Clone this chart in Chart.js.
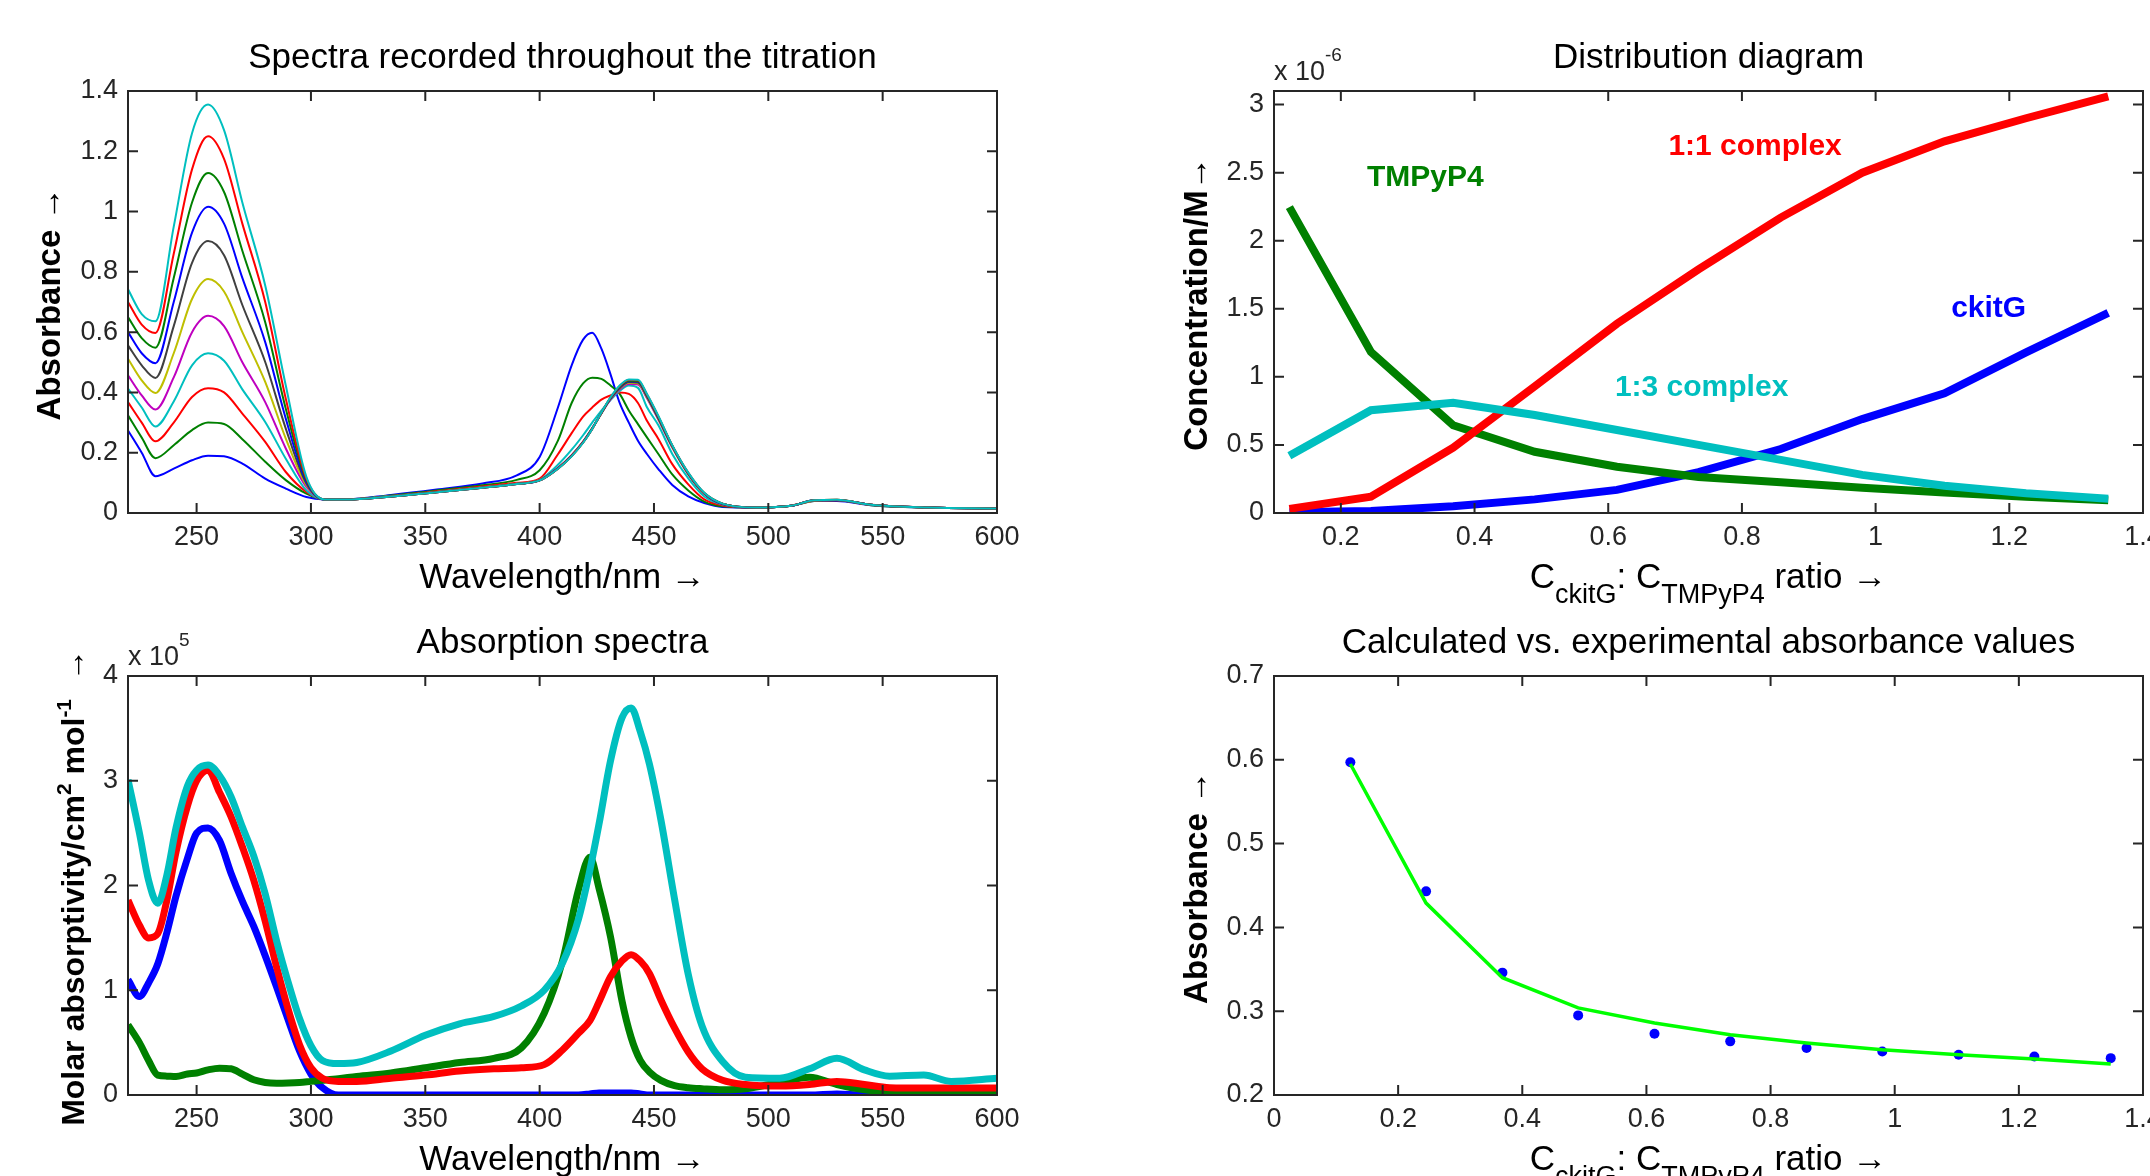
<!DOCTYPE html>
<html>
<head>
<meta charset="utf-8">
<title>TMPyP4 / ckitG titration</title>
<script src="https://cdn.jsdelivr.net/npm/chart.js@4.4.1/dist/chart.umd.min.js"></script>
<style>
  html, body { margin: 0; padding: 0; background: #fff; width: 2150px; height: 1176px; overflow: hidden; }
  canvas { position: absolute; }
</style>
</head>
<body>
<canvas id="titr" width="1075" height="640" style="left:0;top:0"></canvas>
<canvas id="dist" width="1075" height="640" style="left:1075px;top:0"></canvas>
<canvas id="eps" width="1075" height="592" style="left:0;top:584px"></canvas>
<canvas id="fit" width="1075" height="592" style="left:1075px;top:584px"></canvas>
<script>
const FONT = '"Liberation Sans", Arial, Helvetica, sans-serif';
const INK = '#262626';
const TICK_LEN = 10;

// --- spectra recorded during the titration (absorbance) ---
const WL_TITR = [220, 226, 232, 240, 248, 255, 262, 270, 280, 289, 298, 306,
  315, 335, 355, 375, 390, 400, 408, 414, 419, 423, 427, 431, 435, 439, 443, 447,
  452, 458, 465, 472, 480, 495, 510, 520, 530, 545, 570, 600];
const A_01 = [0.274, 0.20, 0.122, 0.147, 0.175, 0.190, 0.188, 0.164, 0.114, 0.081, 0.053, 0.045,
  0.045, 0.060, 0.078, 0.098, 0.125, 0.186, 0.35, 0.49, 0.575, 0.598, 0.545, 0.46, 0.365, 0.30, 0.24, 0.195,
  0.145, 0.093, 0.055, 0.033, 0.020, 0.018, 0.024, 0.040, 0.040, 0.026, 0.018, 0.015];
const A_02 = [0.324, 0.25, 0.182, 0.225, 0.275, 0.300, 0.295, 0.245, 0.170, 0.109, 0.064, 0.045,
  0.045, 0.058, 0.075, 0.092, 0.110, 0.142, 0.24, 0.365, 0.43, 0.449, 0.445, 0.423, 0.395, 0.34, 0.295, 0.25,
  0.195, 0.128, 0.075, 0.038, 0.022, 0.018, 0.024, 0.040, 0.042, 0.026, 0.018, 0.015];
const A_03 = [0.368, 0.30, 0.238, 0.30, 0.385, 0.414, 0.400, 0.33, 0.236, 0.136, 0.070, 0.045,
  0.045, 0.056, 0.072, 0.088, 0.100, 0.114, 0.195, 0.265, 0.32, 0.35, 0.376, 0.39, 0.400, 0.395, 0.365, 0.305,
  0.245, 0.162, 0.095, 0.045, 0.025, 0.018, 0.024, 0.041, 0.042, 0.027, 0.018, 0.015];
const A_04 = [0.413, 0.35, 0.287, 0.37, 0.49, 0.530, 0.505, 0.41, 0.302, 0.180, 0.075, 0.045,
  0.045, 0.056, 0.070, 0.085, 0.097, 0.110, 0.16, 0.21, 0.258, 0.30, 0.34, 0.375, 0.405, 0.423, 0.415, 0.35,
  0.29, 0.196, 0.115, 0.055, 0.028, 0.018, 0.024, 0.042, 0.043, 0.027, 0.018, 0.015];
const A_05 = [0.457, 0.39, 0.343, 0.45, 0.60, 0.654, 0.62, 0.50, 0.368, 0.214, 0.087, 0.045,
  0.045, 0.055, 0.070, 0.085, 0.097, 0.109, 0.150, 0.192, 0.237, 0.282, 0.330, 0.377, 0.410, 0.428, 0.426, 0.380,
  0.308, 0.217, 0.128, 0.064, 0.030, 0.018, 0.024, 0.041, 0.043, 0.027, 0.018, 0.015];
const A_06 = [0.512, 0.44, 0.398, 0.53, 0.71, 0.776, 0.735, 0.60, 0.435, 0.247, 0.092, 0.045,
  0.045, 0.055, 0.070, 0.085, 0.097, 0.109, 0.149, 0.191, 0.236, 0.281, 0.331, 0.379, 0.413, 0.432, 0.430, 0.383,
  0.311, 0.219, 0.129, 0.064, 0.030, 0.018, 0.024, 0.041, 0.043, 0.027, 0.018, 0.015];
const A_07 = [0.556, 0.49, 0.448, 0.62, 0.83, 0.902, 0.855, 0.69, 0.501, 0.280, 0.098, 0.045,
  0.045, 0.055, 0.069, 0.084, 0.096, 0.108, 0.148, 0.190, 0.235, 0.280, 0.331, 0.380, 0.415, 0.435, 0.433, 0.386,
  0.313, 0.221, 0.130, 0.065, 0.030, 0.018, 0.024, 0.042, 0.043, 0.027, 0.018, 0.015];
const A_08 = [0.600, 0.53, 0.497, 0.70, 0.93, 1.016, 0.96, 0.78, 0.567, 0.313, 0.103, 0.045,
  0.045, 0.055, 0.069, 0.084, 0.096, 0.108, 0.148, 0.190, 0.235, 0.280, 0.332, 0.381, 0.417, 0.437, 0.436, 0.388,
  0.315, 0.222, 0.131, 0.065, 0.030, 0.018, 0.024, 0.042, 0.043, 0.027, 0.018, 0.015];
const A_09 = [0.650, 0.58, 0.548, 0.78, 1.03, 1.128, 1.065, 0.87, 0.633, 0.346, 0.109, 0.045,
  0.045, 0.055, 0.069, 0.084, 0.096, 0.108, 0.147, 0.189, 0.234, 0.280, 0.332, 0.382, 0.419, 0.439, 0.438, 0.390,
  0.317, 0.223, 0.132, 0.066, 0.031, 0.018, 0.024, 0.042, 0.044, 0.027, 0.018, 0.015];
const A_10 = [0.700, 0.625, 0.597, 0.86, 1.14, 1.250, 1.175, 0.96, 0.700, 0.379, 0.114, 0.045,
  0.045, 0.055, 0.069, 0.084, 0.096, 0.108, 0.147, 0.189, 0.234, 0.279, 0.333, 0.383, 0.421, 0.441, 0.440, 0.392,
  0.319, 0.224, 0.133, 0.066, 0.031, 0.018, 0.024, 0.042, 0.044, 0.027, 0.018, 0.015];
const A_11 = [0.742, 0.66, 0.636, 0.95, 1.26, 1.355, 1.27, 1.03, 0.755, 0.423, 0.120, 0.045,
  0.045, 0.055, 0.069, 0.084, 0.096, 0.108, 0.147, 0.188, 0.233, 0.279, 0.333, 0.384, 0.423, 0.443, 0.442, 0.394,
  0.321, 0.225, 0.134, 0.067, 0.031, 0.018, 0.024, 0.042, 0.044, 0.027, 0.018, 0.015];
const TITR = [A_01, A_02, A_03, A_04, A_05, A_06, A_07, A_08, A_09, A_10, A_11];
const TITR_COLORS = ['#0000ff', '#008000', '#ff0000', '#00bfbf', '#bf00bf', '#bfbf00', '#404040',
  '#0000ff', '#008000', '#ff0000', '#00bfbf'];
const WL_TICKS = [250, 300, 350, 400, 450, 500, 550, 600];
const TITR_YTICKS = [0, 0.2, 0.4, 0.6, 0.8, 1, 1.2, 1.4];

// --- species distribution, concentrations in 1e-6 M ---
const RATIO = [0.123, 0.245, 0.368, 0.490, 0.613, 0.735, 0.858, 0.980, 1.103, 1.225, 1.348];
const C_CKITG = [0.005, 0.015, 0.05, 0.10, 0.17, 0.30, 0.47, 0.69, 0.88, 1.18, 1.47];
const C_TMPYP4 = [2.247, 1.183, 0.645, 0.45, 0.34, 0.265, 0.226, 0.186, 0.15, 0.12, 0.094];
const C_11 = [0.03, 0.12, 0.48, 0.93, 1.39, 1.79, 2.17, 2.50, 2.73, 2.90, 3.06];
const C_13 = [0.42, 0.755, 0.81, 0.72, 0.61, 0.50, 0.39, 0.28, 0.20, 0.145, 0.105];
const DIST_XTICKS = [0.2, 0.4, 0.6, 0.8, 1, 1.2, 1.4];
const DIST_YTICKS = [0, 0.5, 1, 1.5, 2, 2.5, 3];

// --- molar absorptivities of the species, in 1e5 cm2 mol-1 ---
const WL_EPS = [220, 225, 229, 233, 237, 241, 246, 250, 255, 260, 265, 270, 275, 280, 285, 290, 295, 300, 305, 312,
  320, 335, 350, 365, 380, 392, 402, 410, 417, 422, 426, 431, 436, 440, 444, 448, 453, 459, 465, 471,
  480, 490, 505, 518, 530, 542, 553, 568, 580, 600];
const E_CKITG = [1.10, 0.94, 1.07, 1.25, 1.55, 1.90, 2.26, 2.50, 2.55, 2.43, 2.12, 1.85, 1.61, 1.33, 1.03, 0.72, 0.42, 0.20, 0.07, 0.0,
  0, 0, 0, 0, 0, 0, 0, 0, 0, 0.01, 0.02, 0.02, 0.02, 0.02, 0.01, 0, 0, 0, 0, 0,
  0, 0, 0, 0, 0.01, 0, 0, 0, 0, 0];
const E_TMPYP4 = [0.67, 0.50, 0.33, 0.19, 0.18, 0.177, 0.20, 0.21, 0.24, 0.256, 0.25, 0.20, 0.145, 0.12, 0.113, 0.115, 0.12, 0.13, 0.14, 0.155,
  0.177, 0.21, 0.26, 0.31, 0.35, 0.45, 0.78, 1.28, 1.96, 2.27, 1.97, 1.51, 0.90, 0.55, 0.33, 0.22, 0.14, 0.09, 0.07, 0.06,
  0.05, 0.06, 0.12, 0.17, 0.10, 0.05, 0.03, 0.025, 0.025, 0.025];
const E_11 = [1.86, 1.62, 1.50, 1.54, 1.86, 2.32, 2.76, 3.00, 3.10, 2.89, 2.66, 2.37, 2.05, 1.66, 1.22, 0.82, 0.48, 0.26, 0.16, 0.13,
  0.13, 0.16, 0.19, 0.23, 0.25, 0.26, 0.29, 0.43, 0.59, 0.71, 0.89, 1.13, 1.28, 1.34, 1.28, 1.16, 0.91, 0.64, 0.41, 0.25,
  0.14, 0.10, 0.085, 0.10, 0.13, 0.10, 0.07, 0.066, 0.066, 0.066];
const E_13 = [3.01, 2.50, 2.05, 1.83, 2.10, 2.55, 2.95, 3.10, 3.15, 3.05, 2.85, 2.56, 2.28, 1.92, 1.47, 1.08, 0.73, 0.47, 0.33, 0.30,
  0.31, 0.42, 0.57, 0.68, 0.75, 0.85, 1.00, 1.26, 1.68, 2.15, 2.59, 3.19, 3.60, 3.695, 3.47, 3.16, 2.63, 1.87, 1.15, 0.66,
  0.32, 0.17, 0.16, 0.25, 0.35, 0.24, 0.18, 0.19, 0.13, 0.16];
const EPS_YTICKS = [0, 1, 2, 3, 4];

// --- fitted vs measured absorbance ---
const A_EXP = [0.597, 0.443, 0.346, 0.295, 0.273, 0.264, 0.256, 0.252, 0.248, 0.246, 0.244];
const A_CALC = [0.595, 0.429, 0.340, 0.304, 0.286, 0.272, 0.262, 0.254, 0.248, 0.243, 0.237];
const FIT_XTICKS = [0, 0.2, 0.4, 0.6, 0.8, 1, 1.2, 1.4];
const FIT_YTICKS = [0.2, 0.3, 0.4, 0.5, 0.6, 0.7];

const RATIO_LABEL = [['C', 35, 0], ['ckitG', 27, 15], [': C', 35, 0], ['TMPyP4', 27, 15], [' ratio \u2192', 35, 0]];
const WL_LABEL = [['Wavelength/nm \u2192', 35, 0]];

const DECOR = {
  titr: { title: 'Spectra recorded throughout the titration', xLabel: WL_LABEL,
    yLabel: [['Absorbance \u2192', 33, 0]], yLabelX: 60 },
  dist: { title: 'Distribution diagram', xLabel: RATIO_LABEL,
    yLabel: [['Concentration/M\u2192', 33, 0]], yLabelX: 132, exp: ['x 10', '-6'],
    notes: [
      { t: 'TMPyP4', x: 0.239, y: 2.40, c: '#008000' },
      { t: '1:1 complex', x: 0.690, y: 2.63, c: '#ff0000' },
      { t: 'ckitG', x: 1.113, y: 1.44, c: '#0000ff' },
      { t: '1:3 complex', x: 0.610, y: 0.857, c: '#00bfbf' }
    ] },
  eps: { title: 'Absorption spectra', xLabel: WL_LABEL,
    yLabel: [['Molar absorptivity/cm', 32, 0], ['2', 21, -13], [' mol', 32, 0], ['-1', 21, -13], ['  \u2192', 32, 0]],
    yLabelX: 84, exp: ['x 10', '5'] },
  fit: { title: 'Calculated vs. experimental absorbance values', xLabel: RATIO_LABEL,
    yLabel: [['Absorbance \u2192', 33, 0]], yLabelX: 132 }
};

const font = (size, bold) => (bold ? 'bold ' : '') + size + 'px ' + FONT;

function runsWidth(ctx, runs, bold) {
  return runs.reduce((w, [t, s]) => { ctx.font = font(s, bold); return w + ctx.measureText(t).width; }, 0);
}

function drawRuns(ctx, runs, x, y, bold, align) {
  let cx = align === 'center' ? x - runsWidth(ctx, runs, bold) / 2 : x;
  runs.forEach(([t, s, dy]) => {
    ctx.font = font(s, bold);
    ctx.fillText(t, cx, y + dy);
    cx += ctx.measureText(t).width;
  });
}

// boxed axes with inward ticks on all four sides, plus titles and labels
const frame = {
  id: 'frame',
  afterDatasetsDraw(chart) {
    const { ctx, chartArea: a, scales: { x, y } } = chart;
    const d = DECOR[chart.canvas.id];
    ctx.save();
    ctx.strokeStyle = INK;
    ctx.lineWidth = 2;
    ctx.strokeRect(a.left, a.top, a.right - a.left, a.bottom - a.top);
    ctx.beginPath();
    x.ticks.forEach(t => {
      const px = x.getPixelForValue(t.value);
      ctx.moveTo(px, a.bottom); ctx.lineTo(px, a.bottom - TICK_LEN);
      ctx.moveTo(px, a.top); ctx.lineTo(px, a.top + TICK_LEN);
    });
    y.ticks.forEach(t => {
      const py = y.getPixelForValue(t.value);
      ctx.moveTo(a.left, py); ctx.lineTo(a.left + TICK_LEN, py);
      ctx.moveTo(a.right, py); ctx.lineTo(a.right - TICK_LEN, py);
    });
    ctx.stroke();

    ctx.fillStyle = '#000';
    ctx.textAlign = 'left';
    ctx.textBaseline = 'alphabetic';
    const cx = (a.left + a.right) / 2;
    const cy = (a.top + a.bottom) / 2;
    drawRuns(ctx, [[d.title, 35, 0]], cx, a.top - 23, false, 'center');
    drawRuns(ctx, d.xLabel, cx, a.bottom + 75, false, 'center');

    ctx.save();
    ctx.translate(d.yLabelX, cy + 2);
    ctx.rotate(-Math.PI / 2);
    drawRuns(ctx, d.yLabel, 0, 0, true, 'center');
    ctx.restore();

    if (d.exp) {
      ctx.fillStyle = INK;
      drawRuns(ctx, [[d.exp[0], 27, 0], [d.exp[1], 19, -19]], a.left, a.top - 11, false, 'left');
    }
    (d.notes || []).forEach(n => {
      ctx.fillStyle = n.c;
      ctx.font = font(30, true);
      ctx.fillText(n.t, x.getPixelForValue(n.x), y.getPixelForValue(n.y));
    });
    ctx.restore();
  }
};

const fmt = v => String(+Number(v).toFixed(2));

function axis(min, max, ticks, horizontal, size, pad) {
  return {
    type: 'linear', min, max,
    grid: { display: false, drawTicks: false },
    border: { display: false },
    ticks: {
      autoSkip: false, maxRotation: 0, minRotation: 0, padding: pad, color: INK,
      font: { family: FONT, size: 27 }, callback: fmt
    },
    afterBuildTicks: s => { s.ticks = ticks.map(v => ({ value: v })); },
    afterFit: s => {
      if (horizontal) s.height = size; else s.width = size;
      s.paddingLeft = 0; s.paddingRight = 0; s.paddingTop = 0; s.paddingBottom = 0;
    }
  };
}

function makeChart(id, datasets, o) {
  return new Chart(document.getElementById(id), {
    type: 'scatter',
    data: { datasets },
    plugins: [frame],
    options: {
      responsive: false,
      animation: false,
      events: [],
      devicePixelRatio: 1,
      layout: { padding: { left: 0, top: o.top, right: o.right, bottom: 0 } },
      plugins: { legend: { display: false }, tooltip: { enabled: false } },
      scales: {
        x: axis(o.x[0], o.x[1], o.xTicks, true, o.xH, 8),
        y: axis(o.y[0], o.y[1], o.yTicks, false, o.yW, 10)
      }
    }
  });
}

const line = (xs, ys, color, width, i, smooth) => ({
  data: xs.map((v, k) => ({ x: v, y: ys[k] })),
  showLine: true, borderColor: color, borderWidth: width, pointRadius: 0,
  cubicInterpolationMode: smooth ? 'monotone' : 'default', tension: 0, order: -i
});

makeChart('titr',
  TITR.map((vals, i) => line(WL_TITR, vals, TITR_COLORS[i], 2, i, true)),
  { x: [220, 600], y: [0, 1.4], xTicks: WL_TICKS, yTicks: TITR_YTICKS, top: 91, right: 78, yW: 128, xH: 127 });

makeChart('dist', [
  line(RATIO, C_CKITG, '#0000ff', 8, 0, false),
  line(RATIO, C_TMPYP4, '#008000', 8, 1, false),
  line(RATIO, C_11, '#ff0000', 8, 2, false),
  line(RATIO, C_13, '#00bfbf', 8, 3, false)
], { x: [0.1, 1.4], y: [0, 3.1], xTicks: DIST_XTICKS, yTicks: DIST_YTICKS, top: 91, right: 7, yW: 199, xH: 127 });

makeChart('eps', [
  line(WL_EPS, E_CKITG, '#0000ff', 7, 0, true),
  line(WL_EPS, E_TMPYP4, '#008000', 7, 1, true),
  line(WL_EPS, E_11, '#ff0000', 7, 2, true),
  line(WL_EPS, E_13, '#00bfbf', 7, 3, true)
], { x: [220, 600], y: [0, 4], xTicks: WL_TICKS, yTicks: EPS_YTICKS, top: 92, right: 78, yW: 128, xH: 81 });

makeChart('fit', [
  { data: RATIO.map((r, k) => ({ x: r, y: A_EXP[k] })), showLine: false,
    pointRadius: 5, pointBorderWidth: 0, pointBackgroundColor: '#0000ff', order: 0 },
  line(RATIO, A_CALC, '#00ff00', 3.5, 1, false)
], { x: [0, 1.4], y: [0.2, 0.7], xTicks: FIT_XTICKS, yTicks: FIT_YTICKS, top: 92, right: 7, yW: 199, xH: 81 });
</script>
</body>
</html>
